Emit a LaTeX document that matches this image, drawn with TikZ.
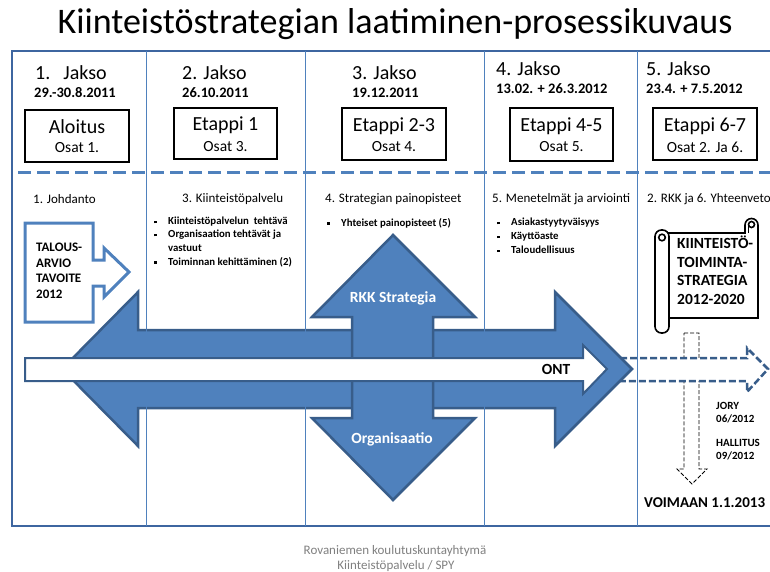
\documentclass[tikz,border=0pt]{standalone}
\usepackage{fontspec}
\setmainfont{Carlito}
\definecolor{frameblue}{HTML}{3E66A0}
\definecolor{lineblue}{HTML}{4F81BD}
\definecolor{fillblue}{HTML}{4F81BD}
\definecolor{edgeblue}{HTML}{385D8A}
\definecolor{footgray}{HTML}{7F7F7F}
\newcommand\pxs[2]{\fontsize{#1}{#2}\selectfont}
\newcommand\bul{\makebox[14pt][l]{\raisebox{1.6pt}{\rule{2.3pt}{2.3pt}}}}
\tikzset{
  lbl/.style={inner sep=0pt, anchor=west},
  jakso/.style={lbl, font=\pxs{20}{24}},
  datum/.style={lbl, font=\pxs{14.5}{17}\bfseries},
  stagebox/.style={draw=black, line width=1.3pt, fill=white, inner sep=0pt},
  stagetitle/.style={inner sep=0pt, font=\pxs{20}{24}},
  stagepart/.style={inner sep=0pt, font=\pxs{15.5}{18}},
  section/.style={lbl, font=\pxs{13}{15}},
  item/.style={lbl, font=\pxs{10.8}{13}\bfseries},
  bigarrow/.style={fill=fillblue, draw=edgeblue, line width=2.5pt, line join=miter},
  divider/.style={lineblue, line width=0.8pt},
  scrollline/.style={draw=black, line width=1.6pt, fill=white},
}
\begin{document}
\begin{tikzpicture}[x=1pt,y=-1pt]
\useasboundingbox (0,0) rectangle (770,572);
\clip (0,0) rectangle (770,572);

% title
\node[inner sep=0pt, font=\pxs{36}{40}] (title) at (395,24) {Kiinteistöstrategian laatiminen-prosessikuvaus};

% outer frame and phase separator
\draw[frameblue, line width=2.5pt] (12,51) rectangle (800,526);
\draw[lineblue, line width=3pt, dash pattern=on 13pt off 6pt] (18,173) -- (770,173);

% period headings
\node[jakso] (j1) at (35,73) {1.\hspace{13pt}Jakso};
\node[datum] (d1) at (34,93) {29.-30.8.2011};
\node[jakso] (j2) at (182,73) {2. Jakso};
\node[datum] (d2) at (182,93) {26.10.2011};
\node[jakso] (j3) at (352,73) {3. Jakso};
\node[datum] (d3) at (352,93) {19.12.2011};
\node[jakso] (j4) at (496,69) {4. Jakso};
\node[datum] (d4) at (496,89) {13.02. + 26.3.2012};
\node[jakso] (j5) at (646,69) {5. Jakso};
\node[datum] (d5) at (646,89) {23.4. + 7.5.2012};

% stage boxes
\node[stagebox, minimum width=104pt, minimum height=52pt] (b1) at (77,136) {};
\node[stagetitle] (b1t) at (77,127) {Aloitus};
\node[stagepart] (b1p) at (77,148) {Osat 1.};
\node[stagebox, minimum width=103pt, minimum height=51pt] (b2) at (225.5,133.5) {};
\node[stagetitle] (b2t) at (225.5,125) {Etappi 1};
\node[stagepart] (b2p) at (225.5,147) {Osat 3.};
\node[stagebox, minimum width=104pt, minimum height=52pt] (b3) at (394,134) {};
\node[stagetitle] (b3t) at (394,126) {Etappi 2-3};
\node[stagepart] (b3p) at (394,147) {Osat 4.};
\node[stagebox, minimum width=103pt, minimum height=53pt] (b4) at (561.5,134.5) {};
\node[stagetitle] (b4t) at (561.5,126) {Etappi 4-5};
\node[stagepart] (b4p) at (561.5,147) {Osat 5.};
\node[stagebox, minimum width=104pt, minimum height=52pt] (b5) at (705,134) {};
\node[stagetitle] (b5t) at (705,126) {Etappi 6-7};
\node[stagepart] (b5p) at (705,147) {Osat 2. Ja 6.};

% section headings
\node[section] (s1) at (33,199) {1. Johdanto};
\node[section] (s2) at (182,199) {3. Kiinteistöpalvelu};
\node[section] (s3) at (325,199) {4. Strategian painopisteet};
\node[section] (s4) at (492,199) {5. Menetelmät ja arviointi};
\node[section] (s5) at (647,199) {2. RKK ja 6. Yhteenveto};

% bullet lists
\node[item] (i21) at (154,222) {\bul Kiinteistöpalvelun\ \ tehtävä};
\node[item] (i22) at (154,235) {\bul Organisaation tehtävät ja};
\node[item] (i23) at (154,248) {\hspace{14pt}vastuut};
\node[item] (i24) at (154,262) {\bul Toiminnan kehittäminen (2)};
\node[item] (i31) at (327,223) {\bul Yhteiset painopisteet (5)};
\node[item] (i41) at (497,223) {\bul Asiakastyytyväisyys};
\node[item] (i42) at (497,237) {\bul Käyttöaste};
\node[item] (i43) at (497,250) {\bul Taloudellisuus};

% budget target arrow
\draw[lineblue, line width=3pt, fill=white, line join=miter]
  (25,223) -- (93,223) -- (93,260) -- (104,260) -- (104,248) -- (129,272)
  -- (104,297) -- (104,286) -- (93,286) -- (93,322) -- (25,322) -- cycle;
\node[inner sep=0pt, anchor=north west, align=left, font=\pxs{13}{15.5}\bfseries] (talous) at (36,243)
  {TALOUS-\\ARVIO\\TAVOITE\\2012};

% decision route downwards
\filldraw[draw=black, fill=white, line width=0.9pt, dash pattern=on 4pt off 2pt]
  (684,333) -- (699,333) -- (699,469) -- (707,469) -- (692,484) -- (677,469) -- (684,469) -- cycle;

% continuation of the main arrow
\fill[white] (620,358) -- (747,358) -- (747,348) -- (768,369) -- (747,392) -- (747,381) -- (620,381) -- cycle;
\draw[edgeblue, line width=2.5pt, dash pattern=on 7pt off 3pt, line join=miter]
  (620,358) -- (747,358) -- (747,348) -- (768,369) -- (747,392) -- (747,381) -- (620,381);

% large double arrows
\draw[bigarrow] (62,369) -- (138,292) -- (138,330) -- (555,330) -- (555,292) -- (632,369)
  -- (555,446) -- (555,408) -- (138,408) -- (138,446) -- cycle;
\draw[bigarrow] (393,235) -- (475,317) -- (433,317) -- (433,418) -- (475,418) -- (393,500)
  -- (312,418) -- (352,418) -- (352,317) -- (312,317) -- cycle;
\node[inner sep=0pt, text=white, font=\pxs{15.5}{18}\bfseries] (rkk) at (393,298) {RKK Strategia};
\node[inner sep=0pt, text=white, font=\pxs{15.5}{18}\bfseries] (org) at (392,439) {Organisaatio};

% column dividers
\draw[divider] (146,51) -- (146,526);
\draw[divider] (305,51) -- (305,526);
\draw[divider] (484,51) -- (484,526);
\draw[divider] (637,51) -- (637,526);

% ONT arrow
\draw[fill=white, draw=edgeblue, line width=2pt, line join=miter]
  (25,358) -- (583,358) -- (583,345) -- (607,369) -- (583,394) -- (583,381) -- (25,381) -- cycle;
\node[inner sep=0pt, font=\pxs{15.5}{18}\bfseries] (ont) at (556,369) {ONT};

% scroll
\path[scrollline] (664,233) -- (745,233) -- (745,225) arc[start angle=180, end angle=0, radius=6.5pt]
  -- (758,318) -- (664,318) -- cycle;
\draw[black, line width=1.6pt, fill=white] (751.5,224.5) circle[radius=3pt];
\draw[black, line width=1.6pt] (748.5,225) -- (748.5,233);
\draw[scrollline, rounded corners=6.5pt] (655,230) rectangle (669,333);
\draw[black, line width=1.6pt, fill=white] (662,237.5) circle[radius=3.3pt];
\node[inner sep=0pt, anchor=north west, align=left, font=\pxs{15.5}{18.5}\bfseries] (kts) at (677,236)
  {KIINTEISTÖ-\\TOIMINTA-\\STRATEGIA\\2012-2020};

% approvals
\node[inner sep=0pt, anchor=north west, align=left, font=\pxs{11}{13}\bfseries] (jory) at (716,402) {JORY\\06/2012};
\node[inner sep=0pt, anchor=north west, align=left, font=\pxs{11}{13}\bfseries] (hall) at (716,439) {HALLITUS\\09/2012};
\node[lbl, font=\pxs{15}{18}\bfseries] (voim) at (644,503) {VOIMAAN 1.1.2013};

% footer
\node[inner sep=0pt, text=footgray, font=\pxs{13}{15}] (f1) at (395,551) {Rovaniemen koulutuskuntayhtymä};
\node[inner sep=0pt, text=footgray, font=\pxs{13}{15}] (f2) at (396,566) {Kiinteistöpalvelu / SPY};
\end{tikzpicture}
\end{document}
